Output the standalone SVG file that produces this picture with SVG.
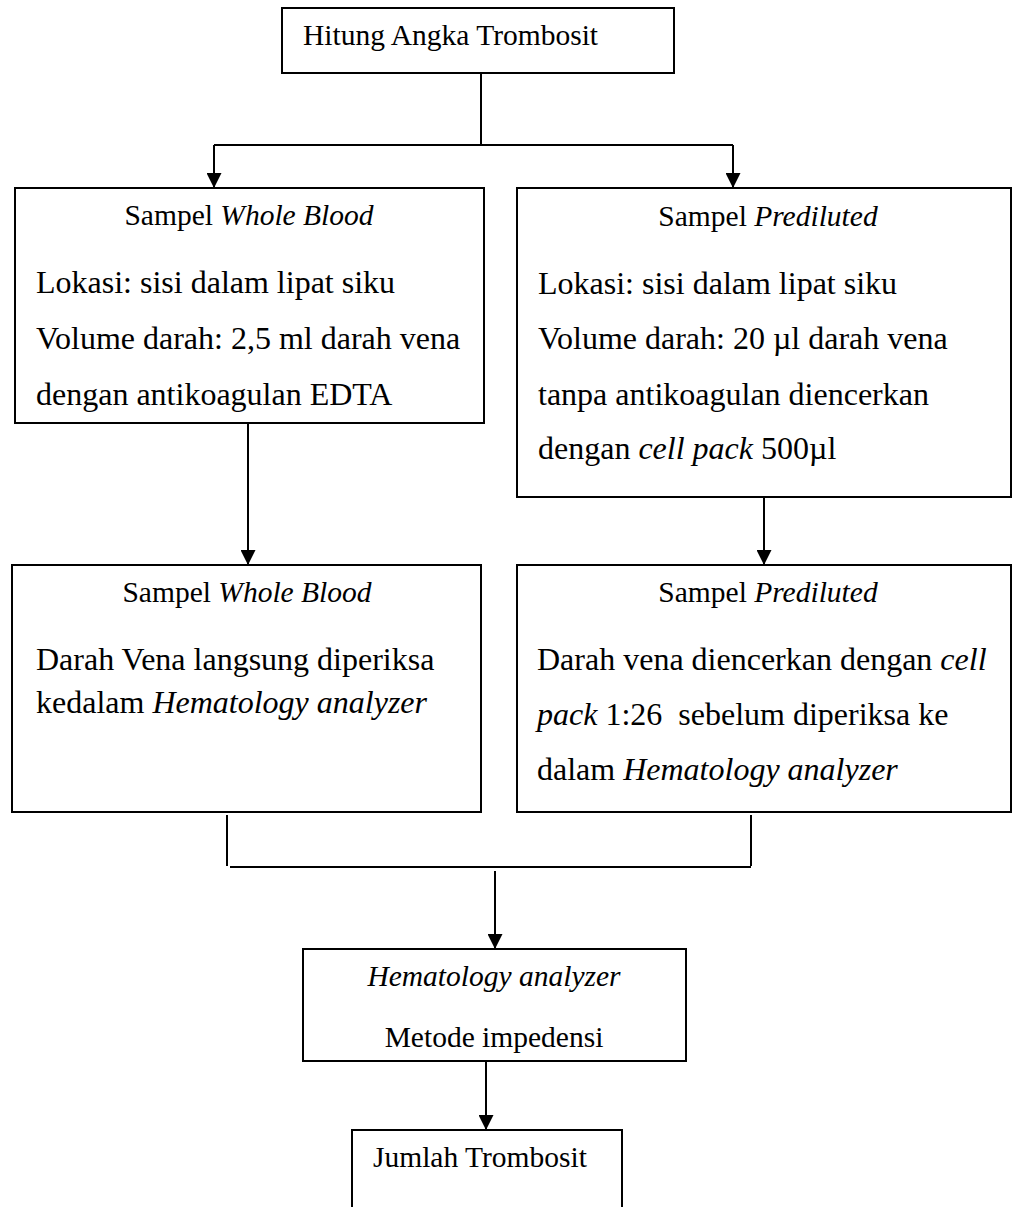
<svg xmlns="http://www.w3.org/2000/svg" width="1013" height="1207" viewBox="0 0 1013 1207">
<style>
.box{fill:#fff;stroke:#000;stroke-width:2}
.ln{fill:none;stroke:#000;stroke-width:2}
text{font-family:"Liberation Serif","Times New Roman",serif;font-size:29.5px;fill:#000}
.b{font-size:32px}
.c{text-anchor:middle}
.i{font-style:italic}
</style>
<defs>
<marker id="ah" viewBox="0 0 10 10" refX="10" refY="5" markerWidth="15" markerHeight="15" markerUnits="userSpaceOnUse" orient="auto">
<path d="M0,0 L10,5 L0,10 Z" fill="#000"/>
</marker>
</defs>
<rect width="1013" height="1207" fill="#fff"/>
<g id="connectors">
<path class="ln" d="M481,74 V145"/>
<path class="ln" d="M214,145 H733"/>
<path class="ln" d="M214,145 V188" marker-end="url(#ah)"/>
<path class="ln" d="M733,145 V188" marker-end="url(#ah)"/>
<path class="ln" d="M248,424 V565" marker-end="url(#ah)"/>
<path class="ln" d="M764,498 V565" marker-end="url(#ah)"/>
<path class="ln" d="M227,815 V866"/>
<path class="ln" d="M751,815 V866"/>
<path class="ln" d="M230,867 H751"/>
<path class="ln" d="M495,871 V949" marker-end="url(#ah)"/>
<path class="ln" d="M486,1062 V1130" marker-end="url(#ah)"/>
</g>
<g id="node-hitung">
<rect class="box" x="282" y="8" width="392" height="65"/>
<text x="303" y="45">Hitung Angka Trombosit</text>
</g>
<g id="node-wb1">
<rect class="box" x="15" y="188" width="469" height="235"/>
<text class="c" x="249" y="225">Sampel <tspan class="i">Whole Blood</tspan></text>
<text class="b" x="36" y="293">Lokasi: sisi dalam lipat siku</text>
<text class="b" x="36" y="349">Volume darah: 2,5 ml darah vena</text>
<text class="b" x="36" y="405">dengan antikoagulan EDTA</text>
</g>
<g id="node-pd1">
<rect class="box" x="517" y="188" width="494" height="309"/>
<text class="c" x="768" y="226">Sampel <tspan class="i">Prediluted</tspan></text>
<text class="b" x="538" y="294">Lokasi: sisi dalam lipat siku</text>
<text class="b" x="538" y="349">Volume darah: 20 µl darah vena</text>
<text class="b" x="538" y="405">tanpa antikoagulan diencerkan</text>
<text class="b" x="538" y="459">dengan <tspan class="i">cell pack</tspan> 500µl</text>
</g>
<g id="node-wb2">
<rect class="box" x="12" y="565" width="469" height="247"/>
<text class="c" x="247" y="602">Sampel <tspan class="i">Whole Blood</tspan></text>
<text class="b" x="36" y="670">Darah Vena langsung diperiksa</text>
<text class="b" x="36" y="713">kedalam <tspan class="i">Hematology analyzer</tspan></text>
</g>
<g id="node-pd2">
<rect class="box" x="517" y="565" width="494" height="247"/>
<text class="c" x="768" y="602">Sampel <tspan class="i">Prediluted</tspan></text>
<text class="b" x="537" y="670">Darah vena diencerkan dengan <tspan class="i">cell</tspan></text>
<text class="b" x="537" y="725" xml:space="preserve"><tspan class="i">pack</tspan> 1:26  sebelum diperiksa ke</text>
<text class="b" x="537" y="780">dalam <tspan class="i">Hematology analyzer</tspan></text>
</g>
<g id="node-ha">
<rect class="box" x="303" y="949" width="383" height="112"/>
<text class="c i" x="494" y="986">Hematology analyzer</text>
<text class="c" x="494" y="1047">Metode impedensi</text>
</g>
<g id="node-jumlah">
<path class="box" d="M352,1215 V1130 H622 V1215"/>
<text x="373" y="1167">Jumlah Trombosit</text>
</g>
</svg>
